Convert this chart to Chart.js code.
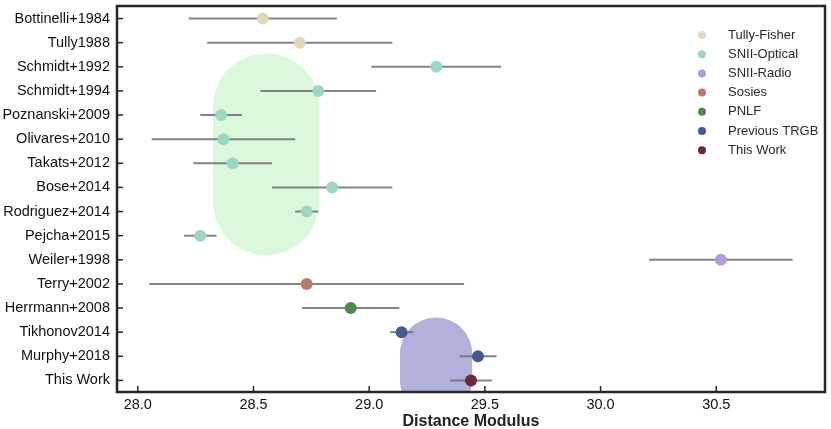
<!DOCTYPE html>
<html>
<head>
<meta charset="utf-8">
<script src="https://cdn.jsdelivr.net/npm/chart.js@4.4.1/dist/chart.umd.min.js"></script>
<style>
html, body { margin: 0; padding: 0; background: #fff; }
#wrapper { width: 831px; height: 429px; }
</style>
</head>
<body>
<div id="wrapper"><canvas id="chart" width="831" height="429"></canvas></div>
<script>
"use strict"

const studies = ["Bottinelli+1984", "Tully1988", "Schmidt+1992", "Schmidt+1994", "Poznanski+2009",
    "Olivares+2010", "Takats+2012", "Bose+2014", "Rodriguez+2014", "Pejcha+2015", "Weiler+1998",
    "Terry+2002", "Herrmann+2008", "Tikhonov2014", "Murphy+2018", "This Work"];
const studyMethod = [0, 0, 1, 1, 1, 1, 1, 1, 1, 1, 2, 3, 4, 5, 5, 6]; // indice in methods
const modulus = [28.54, 28.70, 29.29, 28.78, 28.36, 28.37, 28.41, 28.84, 28.73, 28.27,
    30.52, 28.73, 28.92, 29.14, 29.47, 29.44];
const modulusErr = [0.32, 0.40, 0.28, 0.25, 0.09, 0.31, 0.17, 0.26, 0.05, 0.07,
    0.31, 0.68, 0.21, 0.05, 0.08, 0.09];
const methods = ["Tully-Fisher", "SNII-Optical", "SNII-Radio", "Sosies", "PNLF", "Previous TRGB", "This Work"];
const methodColors = ["#e3d8bc", "#9dd6c1", "#b49cdb", "#ba7c69", "#4d8b52", "#485a8d", "#6a2a3b"];
const xTicks = [28.0, 28.5, 29.0, 29.5, 30.0, 30.5];

// zone ombreggiate: [xmin, xmax, riga iniziale, riga finale]
const greenZone = [28.325, 28.785, 1.45, 9.81];
const purpleZone = [29.133, 29.445, 12.39, 16.5];

const FONT = "'Liberation Sans', Arial, sans-serif";

// un dataset per ogni metodo
let datasets = methods.map((m, k) => {
    let pts = [];
    for (let i = 0; i < studies.length; i++) {
        if (studyMethod[i] === k) pts.push({ x: modulus[i], y: i, err: modulusErr[i] });
    }
    return {
        label: m,
        data: pts,
        backgroundColor: methodColors[k],
        borderWidth: 0,
        pointRadius: 6,
        pointHoverRadius: 6
    };
});

// rettangolo con estremi a semicerchio
function roundZone(ctx, x1, y1, x2, y2, color) {
    let r = (x2 - x1) / 2;
    ctx.fillStyle = color;
    ctx.beginPath();
    ctx.moveTo(x1, y2 - r);
    ctx.lineTo(x1, y1 + r);
    ctx.arc(x1 + r, y1 + r, r, Math.PI, 2 * Math.PI);
    ctx.lineTo(x2, y2 - r);
    ctx.arc(x1 + r, y2 - r, r, 0, Math.PI);
    ctx.closePath();
    ctx.fill();
}

// zone + barre d'errore sotto i punti
const errorBars = {
    id: "errorBars",
    beforeDatasetsDraw(chart) {
        let ctx = chart.ctx, xs = chart.scales.x, ys = chart.scales.y, a = chart.chartArea;
        ctx.save();
        ctx.beginPath();
        ctx.rect(a.left, a.top, a.right - a.left, a.bottom - a.top);
        ctx.clip();
        roundZone(ctx, xs.getPixelForValue(greenZone[0]), ys.getPixelForValue(greenZone[2]),
            xs.getPixelForValue(greenZone[1]), ys.getPixelForValue(greenZone[3]), "#dcf8dc");
        roundZone(ctx, xs.getPixelForValue(purpleZone[0]), ys.getPixelForValue(purpleZone[2]),
            xs.getPixelForValue(purpleZone[1]), ys.getPixelForValue(purpleZone[3]), "#b1b1dc");

        ctx.strokeStyle = "rgba(110,110,110,0.85)";
        ctx.lineWidth = 2;
        chart.data.datasets.forEach(ds => {
            ds.data.forEach(p => {
                let y = ys.getPixelForValue(p.y);
                ctx.beginPath();
                ctx.moveTo(xs.getPixelForValue(p.x - p.err), y);
                ctx.lineTo(xs.getPixelForValue(p.x + p.err), y);
                ctx.stroke();
            });
        });
        ctx.restore();
    }
};

// cornice, tacche interne e legenda
const frameAndLegend = {
    id: "frameAndLegend",
    afterDraw(chart) {
        let ctx = chart.ctx, xs = chart.scales.x, ys = chart.scales.y, a = chart.chartArea;
        ctx.save();
        ctx.strokeStyle = "#262626";
        ctx.lineWidth = 1.5;
        xTicks.forEach(v => {
            let x = xs.getPixelForValue(v);
            ctx.beginPath();
            ctx.moveTo(x, a.bottom);
            ctx.lineTo(x, a.bottom - 6);
            ctx.stroke();
        });
        studies.forEach((s, i) => {
            let y = ys.getPixelForValue(i);
            ctx.beginPath();
            ctx.moveTo(a.left, y);
            ctx.lineTo(a.left + 6, y);
            ctx.stroke();
        });
        ctx.lineWidth = 2.5;
        ctx.strokeRect(a.left, a.top, a.right - a.left, a.bottom - a.top);

        ctx.font = "13px " + FONT;
        ctx.textBaseline = "middle";
        ctx.textAlign = "left";
        methods.forEach((m, k) => {
            let y = a.top + 29 + k * 19.2;
            let x = a.right - 123;
            ctx.fillStyle = methodColors[k];
            ctx.beginPath();
            ctx.arc(x, y, 4, 0, 2 * Math.PI);
            ctx.fill();
            ctx.fillStyle = "#2a2a2a";
            ctx.fillText(m, x + 26, y);
        });
        ctx.restore();
    }
};

let chartOptions = {
    type: "scatter",
    data: { datasets: datasets },
    options: {
        responsive: false,
        animation: false,
        devicePixelRatio: 1,
        events: [],
        layout: { padding: { top: 3, right: 3, bottom: 0, left: 0 } },
        plugins: { legend: { display: false }, tooltip: { enabled: false } },
        scales: {
            x: {
                type: "linear",
                min: 27.91,
                max: 30.97,
                grid: { display: false, drawTicks: false },
                border: { display: false },
                afterBuildTicks: s => { s.ticks = xTicks.map(v => ({ value: v })); },
                afterFit: s => { s.height = 37; s.paddingLeft = 0; s.paddingRight = 0; },
                ticks: {
                    padding: 4,
                    color: "#111",
                    font: { family: FONT, size: 14.5 },
                    callback: v => v.toFixed(1)
                },
                title: {
                    display: true,
                    text: "Distance Modulus",
                    color: "#222",
                    padding: { top: 0, bottom: -2 },
                    font: { family: FONT, size: 16, weight: "bold" }
                }
            },
            y: {
                type: "linear",
                reverse: true,
                min: -0.52,
                max: 15.48,
                grid: { display: false, drawTicks: false },
                border: { display: false },
                afterBuildTicks: s => { s.ticks = studies.map((n, i) => ({ value: i })); },
                afterFit: s => { s.width = 117; s.paddingTop = 0; s.paddingBottom = 0; },
                ticks: {
                    padding: 7,
                    color: "#111",
                    font: { family: FONT, size: 14.5 },
                    callback: v => studies[v]
                }
            }
        }
    },
    plugins: [errorBars, frameAndLegend]
};

let chart = new Chart(document.getElementById("chart"), chartOptions);
</script>
</body>
</html>
